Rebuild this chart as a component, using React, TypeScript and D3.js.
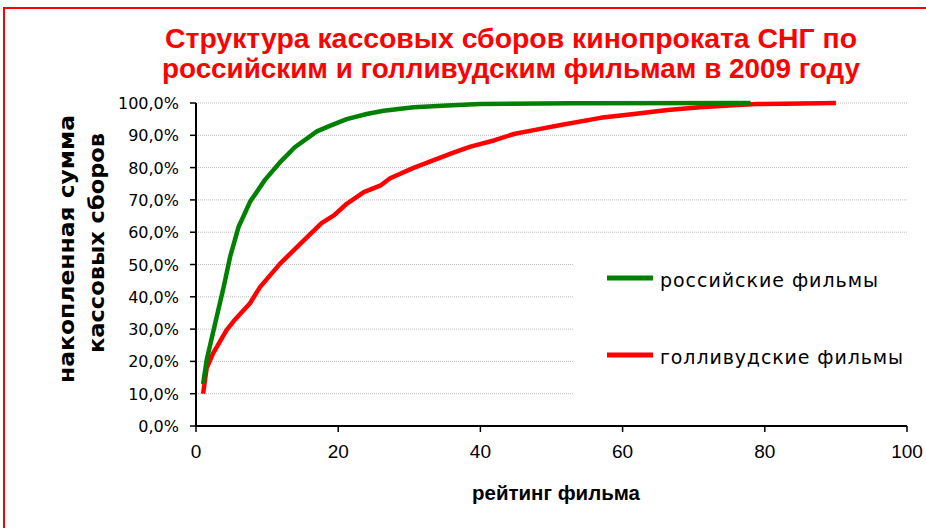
import { line, scaleLinear } from 'd3'

const xTicks = [0, 20, 40, 60, 80, 100]
const yTicks = [0, 10, 20, 30, 40, 50, 60, 70, 80, 90, 100]

// rank of film vs cumulative share of box office, %
const russianRank = [1, 1.5, 2.7, 3.9, 4.8, 6, 7.6, 9.7, 11.8, 13.9, 17, 18.9, 21.2, 24, 26.4, 30.6, 35.3, 40, 53, 78]
const russianShare = [13, 20.4, 31.8, 43.1, 52.4, 61.7, 69.4, 76.2, 81.6, 86.3, 91.2, 93, 95, 96.6, 97.6, 98.7, 99.2, 99.7, 99.95, 100]

const hollywoodRank = [1, 1.5, 2.4, 4.3, 5.5, 7.6, 9, 11.8, 13.7, 16.1, 17.7, 19.4, 21.2, 23.6, 25.9, 27.3, 30.6, 33.9, 36.3, 38.6, 41.9, 44.7, 47.5, 51.3, 56.9, 61.6, 66.3, 70.9, 75.6, 78.9, 82.7, 90]
const hollywoodShare = [10, 17.9, 22.5, 29.7, 33, 38, 43, 50.2, 54.3, 59.5, 62.9, 65.2, 68.8, 72.4, 74.4, 76.7, 79.9, 82.7, 84.7, 86.5, 88.4, 90.4, 91.6, 93.2, 95.4, 96.6, 97.8, 98.7, 99.3, 99.7, 99.8, 100]

const seriesNames = ['российские фильмы', 'голливудские фильмы']
const titleLines = ['Структура кассовых сборов кинопроката СНГ по', 'российским и голливудским фильмам в 2009 году']

export default function App() {
  const width = 926
  const height = 528
  const x = scaleLinear().domain([0, 100]).range([196, 907])
  const y = scaleLinear().domain([0, 100]).range([426, 103])

  const path = line<[number, number]>()
    .x((d) => x(d[0]))
    .y((d) => y(d[1]))
  const russian = path(russianRank.map((r, i) => [r, russianShare[i]]))
  const hollywood = path(hollywoodRank.map((r, i) => [r, hollywoodShare[i]]))

  const sans = 'DejaVu Sans, Verdana, sans-serif'
  const narrow = 'Liberation Sans, Arial, sans-serif'

  return (
    <svg
      width={width}
      height={height}
      viewBox={`0 0 ${width} ${height}`}
      style={{ position: 'absolute', left: 0, top: 0, background: '#fff' }}
    >
      <rect x={4} y={8} width={960} height={560} fill="#fff" stroke="#ff0000" strokeWidth={2} />

      {titleLines.map((t, i) => (
        <text
          key={t}
          x={511}
          y={48 + i * 30}
          textAnchor="middle"
          fill="#ff0000"
          fontFamily={narrow}
          fontWeight="bold"
          fontSize={27}
          textLength={i === 0 ? 692 : 698}
          lengthAdjust="spacingAndGlyphs"
        >
          {t}
        </text>
      ))}

      {yTicks.filter((t) => t > 0).map((t) => (
        <line key={t} x1={x(0)} x2={x(100)} y1={y(t)} y2={y(t)} stroke="#bdbdbd" strokeWidth={1} strokeDasharray="1 1" />
      ))}

      <rect x={573} y={244} width={360} height={160} fill="#fff" />

      <path d={hollywood ?? ''} fill="none" stroke="#ff0000" strokeWidth={4.5} strokeLinejoin="round" />
      <path d={russian ?? ''} fill="none" stroke="#008000" strokeWidth={4.5} strokeLinejoin="round" />

      <line x1={x(0)} x2={x(0)} y1={y(100)} y2={y(0)} stroke="#000" strokeWidth={2} />
      <line x1={x(0)} x2={x(100)} y1={y(0)} y2={y(0)} stroke="#000" strokeWidth={2} />

      {yTicks.map((t) => (
        <g key={t}>
          <line x1={x(0) - 6} x2={x(0)} y1={y(t)} y2={y(t)} stroke="#000" strokeWidth={1.5} />
          <text x={179} y={y(t) + 6} textAnchor="end" fontFamily={sans} fontSize={16} fill="#000">
            {t.toFixed(1).replace('.', ',')}%
          </text>
        </g>
      ))}

      {xTicks.map((t) => (
        <g key={t}>
          <line x1={x(t)} x2={x(t)} y1={y(0)} y2={y(0) + 6} stroke="#000" strokeWidth={1.5} />
          <text x={x(t)} y={458} textAnchor="middle" fontFamily={narrow} fontSize={19} fill="#000">
            {t}
          </text>
        </g>
      ))}

      <text x={556} y={500} textAnchor="middle" fontFamily={narrow} fontWeight="bold" fontSize={21} textLength={168} lengthAdjust="spacingAndGlyphs">
        рейтинг фильма
      </text>

      <text transform="translate(74,249) rotate(-90)" textAnchor="middle" fontFamily={sans} fontWeight="bold" fontSize={21} textLength={268} lengthAdjust="spacingAndGlyphs">
        накопленная сумма
      </text>
      <text transform="translate(104,243) rotate(-90)" textAnchor="middle" fontFamily={sans} fontWeight="bold" fontSize={21} textLength={220} lengthAdjust="spacingAndGlyphs">
        кассовых сборов
      </text>

      {seriesNames.map((name, i) => (
        <g key={name}>
          <line x1={607} x2={653} y1={278 + i * 77} y2={278 + i * 77} stroke={i === 0 ? '#008000' : '#ff0000'} strokeWidth={5} />
          <text
            x={660}
            y={287 + i * 77}
            fontFamily={sans}
            fontSize={19}
            fill="#000"
            textLength={i === 0 ? 218 : 243}
            lengthAdjust="spacing"
          >
            {name}
          </text>
        </g>
      ))}
    </svg>
  )
}
